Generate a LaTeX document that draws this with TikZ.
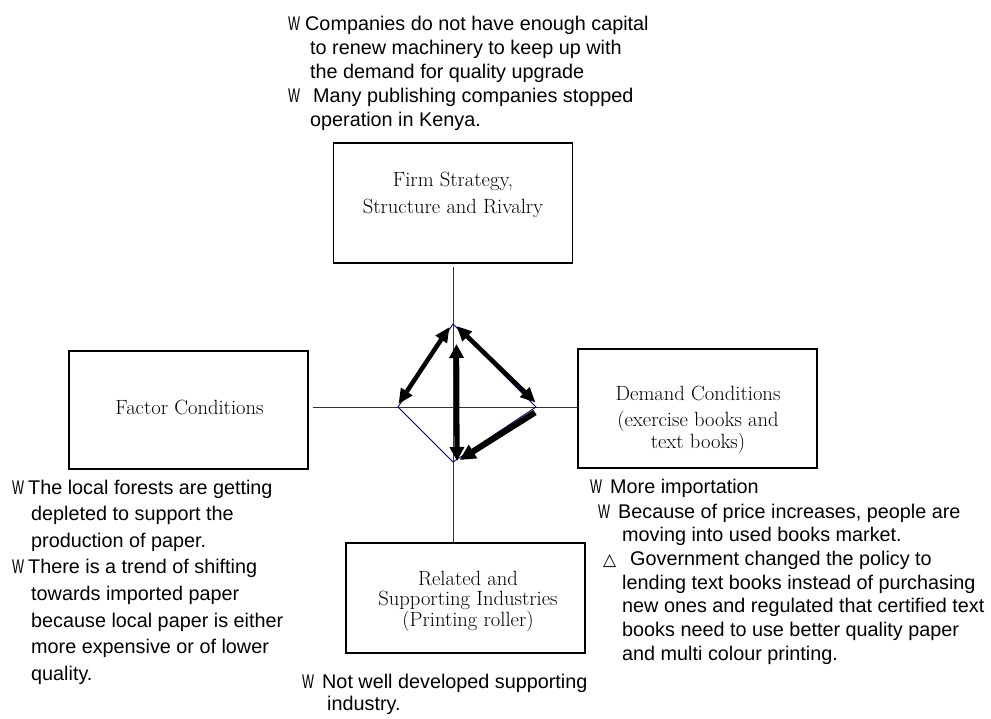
\documentclass[tikz,border=0pt]{standalone}
\usepackage{fontspec}
\usepackage{graphicx}
\usetikzlibrary{arrows.meta}
\newfontfamily\notefont{Liberation Sans}
\newfontfamily\symfont{DejaVu Sans}

% stacked lines with an exact baseline distance; the block's baseline is its first line
\newcommand\cenlines[2]{\vtop{\baselineskip=#1\relax\lineskiplimit=-\maxdimen\lineskip=0pt\halign{\hfil##\hfil\cr#2\crcr}}}
\newcommand\leftlines[2]{\vtop{\baselineskip=#1\relax\lineskiplimit=-\maxdimen\lineskip=0pt\halign{##\hfil\cr#2\crcr}}}
% list marks
\newcommand\wmark{\scalebox{0.64}[1]{W}}
\newcommand\trimark{{\symfont\fontsize{17}{17}\selectfont △}}

\tikzset{
  box/.style={draw=black, line width=1.2pt, rectangle, inner sep=0pt, minimum width=239pt},
  boxtext/.style={anchor=base, inner sep=0pt, font=\fontsize{20.6}{24}\selectfont},
  note/.style={anchor=base west, inner sep=0pt, font=\notefont\fontsize{19.8}{24}\selectfont},
  axis/.style={draw=black!80, line width=1pt},
  rim/.style={draw=blue!45!black, line width=0.9pt},
  link/.style={line width=4.5pt, >={Triangle[length=15pt,width=13pt]}},
}

\begin{document}
\begin{tikzpicture}[x=1pt,y=-1pt]
\useasboundingbox (0,0) rectangle (991,718);

% the four boxes
\node[box, minimum height=120pt] (firm)   at (453,203)   {};
\node[box, minimum height=118pt] (factor) at (188.5,410) {};
\node[box, minimum height=119pt] (demand) at (697.5,408.5) {};
\node[box, minimum height=110pt] (related) at (465.5,598) {};

\node[boxtext] (firmT) at (453,186)
  {\cenlines{27pt}{Firm Strategy,\cr Structure and Rivalry}};
\node[boxtext] (factorT) at (189.5,414) {Factor Conditions};
\node[boxtext] (demandT) at (698,400)
  {\cenlines{26pt}{Demand Conditions\cr (exercise books and\cr\noalign{\vskip-4pt}text books)}};
\node[boxtext] (relatedT) at (468,585)
  {\cenlines{20.5pt}{Related and\cr Supporting Industries\cr (Printing roller)}};

% axes through the centre
\coordinate (vTop) at (453,267);
\coordinate (vBot) at (453,543);
\coordinate (hLeft) at (313,407);
\coordinate (hRight) at (578,407);
\draw[axis] (vTop) -- (vBot);
\draw[axis] (hLeft) -- (hRight);

% diamond
\coordinate (dT) at (453,324);
\coordinate (dL) at (398,407);
\coordinate (dB) at (453,462);
\coordinate (dR) at (536,407);
\draw[rim] (dT) -- (dL) -- (dB) -- (dR) -- cycle;

% interaction arrows
\coordinate (a1s) at (398.5,404);
\coordinate (a1e) at (449.5,327);
\coordinate (a2s) at (456.5,326);
\coordinate (a2e) at (535.5,402.5);
\coordinate (a3s) at (456.5,344);
\coordinate (a3e) at (457,461);
\coordinate (a4s) at (535,412.5);
\coordinate (a4e) at (459.5,460);
\draw[link, <->] (a1s) -- (a1e);
\draw[link, <->] (a2s) -- (a2e);
\draw[link, line width=5.3pt, <->, >={Triangle[length=14pt,width=14pt]}] (a3e) -- (a3s);
\draw[link, line width=6pt, ->, >={Triangle[length=16pt,width=15pt]}] (a4s) -- (a4e);

% notes
\node[note] (firmN) at (288,30.5) {\leftlines{24pt}{%
  \makebox[17pt][l]{\wmark}Companies do not have enough capital\cr
  \hskip22pt to renew machinery to keep up with\cr
  \hskip22pt the demand for quality upgrade\cr
  \makebox[25pt][l]{\wmark}Many publishing companies stopped\cr
  \hskip22pt operation in Kenya.}};

\node[note] (factorN) at (12,494) {\leftlines{26.6pt}{%
  \makebox[16pt][l]{\wmark}The local forests are getting\cr
  \hskip19pt depleted to support the\cr
  \hskip19pt production of paper.\cr
  \makebox[16pt][l]{\wmark}There is a trend of shifting\cr
  \hskip19pt towards imported paper\cr
  \hskip19pt because local paper is either\cr
  \hskip19pt more expensive or of lower\cr
  \hskip19pt quality.}};

\node[note] (demandN1) at (590,493) {\makebox[20pt][l]{\wmark}More importation};
\node[note] (demandN2) at (598,518) {\leftlines{23.7pt}{%
  \makebox[20pt][l]{\wmark}Because of price increases, people are\cr
  \hskip24pt moving into used books market.\cr
  \hskip5pt\makebox[27pt][l]{\trimark}Government changed the policy to\cr
  \hskip24pt lending text books instead of purchasing\cr
  \hskip24pt new ones and regulated that certified text\cr
  \hskip24pt books need to use better quality paper\cr
  \hskip24pt and multi colour printing.}};

\node[note] (relatedN) at (302,688) {\leftlines{22pt}{%
  \makebox[20pt][l]{\wmark}Not well developed supporting\cr
  \hskip25pt industry.}};
\end{tikzpicture}
\end{document}
